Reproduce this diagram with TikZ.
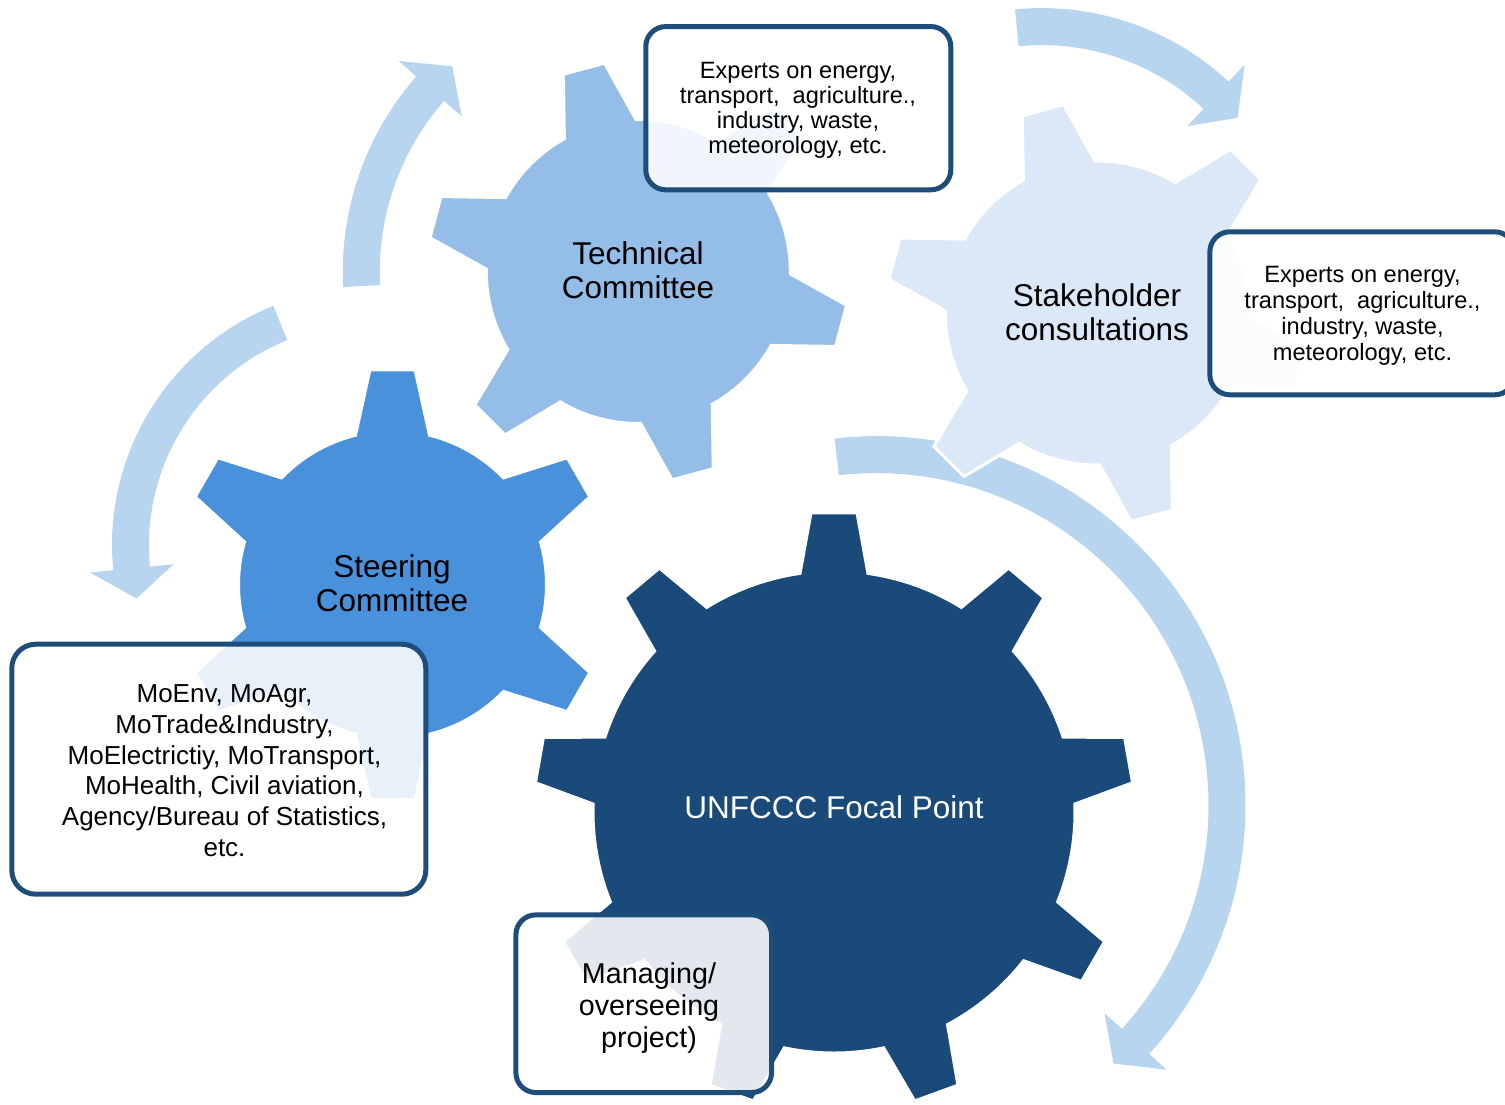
\documentclass[tikz,border=0pt]{standalone}
\usepackage{fontspec}
\setmainfont{Liberation Sans}
\definecolor{gearnavy}{RGB}{26,74,122}
\definecolor{gearmid}{RGB}{74,145,220}
\definecolor{gearlight}{RGB}{148,189,232}
\definecolor{gearpale}{RGB}{219,232,247}
\definecolor{arrowblue}{RGB}{184,213,240}
\definecolor{boxblue}{RGB}{31,77,121}

\newcommand{\drawgear}[8]{%
  % #1 style, #2 center, #3 teeth, #4 first angle, #5 body radius, #6 tip radius, #7 base half angle, #8 tip half angle
  \path[#1, shift={#2}] ({#4-#7}:#5pt)
  \foreach \k in {1,...,#3}{
    -- ({#4+(\k-1)*360/#3-#8}:#6pt)
    -- ({#4+(\k-1)*360/#3+#8}:#6pt)
    -- ({#4+(\k-1)*360/#3+#7}:#5pt)
    arc[start angle={#4+(\k-1)*360/#3+#7}, end angle={#4+\k*360/#3-#7}, radius=#5pt]
  } -- cycle;
}

\newcommand{\circarrow}[6]{%
  % #1 style, #2 center, #3 centre-line radius, #4 tail angle, #5 head base angle, #6 tip angle
  \pgfmathsetmacro{\arRo}{#3+18.5}%
  \pgfmathsetmacro{\arRi}{#3-18.5}%
  \pgfmathsetmacro{\arBo}{#3+42}%
  \pgfmathsetmacro{\arBi}{#3-42}%
  \path[#1, shift={#2}] (#4:\arRo pt)
    arc[start angle=#4, end angle=#5, radius=\arRo pt]
    -- (#5:\arBo pt) -- (#6:#3pt) -- (#5:\arBi pt) -- (#5:\arRi pt)
    arc[start angle=#5, end angle=#4, radius=\arRi pt] -- cycle;
}

\tikzset{
  arrowshape/.style={fill=arrowblue},
  gearshape/.style={draw=white, line width=3pt, line join=miter},
  infobox/.style={draw=boxblue, line width=5pt, rounded corners=20pt,
    fill=white, fill opacity=0.88, draw opacity=1, inner sep=0pt},
  boxtext/.style={align=center, inner sep=0pt},
  gearlabel/.style={align=center, font=\fontsize{31.5}{34}\selectfont},
}

\begin{document}
\begin{tikzpicture}[x=1pt,y=-1pt]
\useasboundingbox (0,0) rectangle (1505,1104);
\clip (0,0) rectangle (1505,1104);

% circular arrows
\circarrow{arrowshape}{(638.3,271.5)}{277}{183}{138.7}{132.2}
\circarrow{arrowshape}{(370,545)}{239.5}{112}{185.6}{192.9}
\circarrow{arrowshape}{(1041.8,282.1)}{255.5}{95.6}{47}{40}
\circarrow{arrowshape}{(876.4,805.2)}{350.6}{96.5}{-42.35}{-47.45}

% gears
\drawgear{gearshape, fill=gearlight}{(638.3,271.5)}{6}{45}{152}{211}{14.1}{5.8}
\drawgear{gearshape, fill=gearmid}{(392.5,584.7)}{6}{90}{154}{216}{13.9}{6.0}
\drawgear{gearshape, fill=gearnavy}{(834,812)}{9}{90}{241}{300}{8.1}{4.4}
\drawgear{gearshape, fill=gearpale}{(1097.3,313)}{6}{45}{152}{211}{14.1}{5.8}

% gear labels
\node[gearlabel] (tech) at (638,270) {Technical\\Committee};
\node[gearlabel] (steer) at (392,583.5) {Steering\\Committee};
\node[gearlabel] (stake) at (1097,312.5) {Stakeholder\\consultations};
\node[align=center, text=white, font=\fontsize{31.5}{34}\selectfont] (focal) at (834,807) {UNFCCC Focal Point};

% info boxes
\node[infobox, minimum width=305pt, minimum height=163.3pt] (techbox) at (798.3,108.2) {};
\node[boxtext, font=\fontsize{23.6}{25.2}\selectfont] (techtext) at (798,110.2)
  {Experts on energy,\\transport,\ \ agriculture.,\\industry, waste,\\meteorology, etc.};

\node[infobox, minimum width=304.7pt, minimum height=163pt] (stakebox) at (1362.2,313.3) {};
\node[boxtext, font=\fontsize{23.6}{25.8}\selectfont] (staketext) at (1362.5,315.8)
  {Experts on energy,\\transport,\ \ agriculture.,\\industry, waste,\\meteorology, etc.};

\node[infobox, rounded corners=24pt, minimum width=414pt, minimum height=250pt] (steerbox) at (218.8,769.2) {};
\node[boxtext, font=\fontsize{26}{30.8}\selectfont] (steertext) at (224.5,770.7)
  {MoEnv, MoAgr,\\MoTrade\&Industry,\\MoElectrictiy, MoTransport,\\MoHealth, Civil aviation,\\Agency/Bureau of Statistics,\\etc.};

\node[infobox, minimum width=255.7pt, minimum height=177.7pt] (focalbox) at (643.7,1003.7) {};
\node[boxtext, font=\fontsize{28.7}{32}\selectfont] (focaltext) at (649,1008)
  {Managing/\\overseeing\\project)};
\end{tikzpicture}
\end{document}
